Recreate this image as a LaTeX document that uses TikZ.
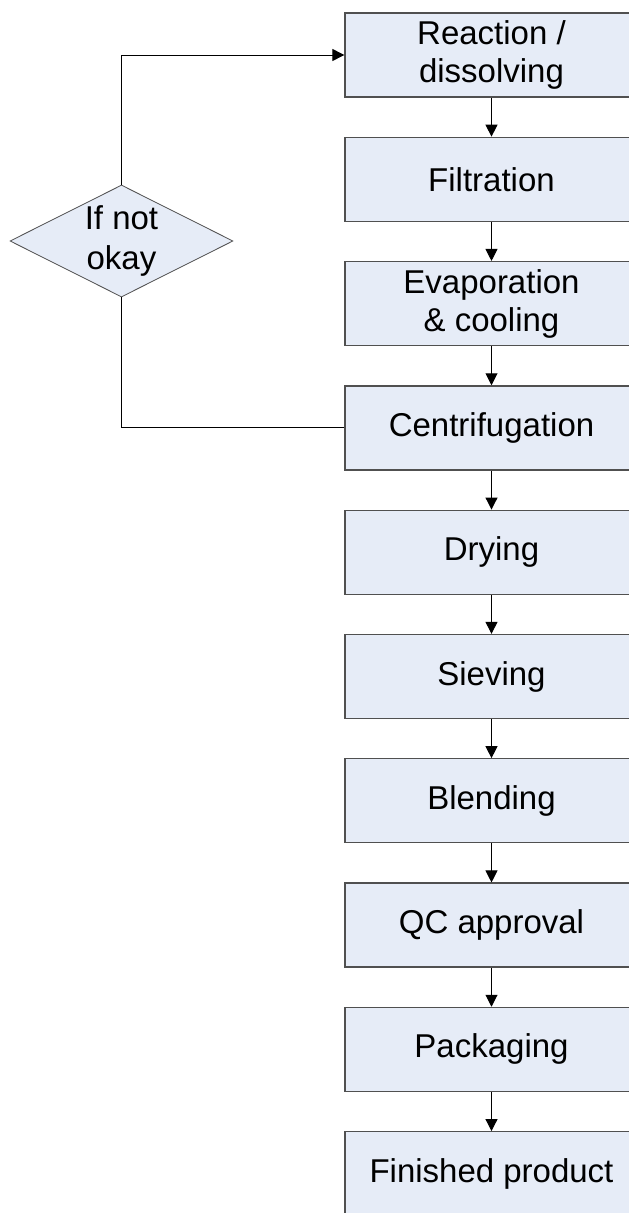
\documentclass[tikz,border=0pt]{standalone}
\usepackage{fontspec}
\setmainfont{Liberation Sans}
\usepackage{tikz}
\usetikzlibrary{arrows.meta,shapes.geometric,calc}

\definecolor{boxfill}{HTML}{E6ECF7}
\definecolor{boxline}{HTML}{505050}

\tikzset{
	stepbox/.style={draw=boxline, fill=boxfill, line width=1.3pt,
		minimum width=293pt, minimum height=84pt, inner sep=2pt,
		align=center, font=\fontsize{33}{38}\selectfont},
	checkbox/.style={diamond, draw=boxline, fill=boxfill, line width=0.8pt,
		aspect=2, minimum width=223pt, minimum height=112pt, inner sep=0pt,
		align=center, font=\fontsize{33}{40}\selectfont},
	flow/.style={line width=1pt, -{Triangle[length=12pt,width=12pt]}}
}

\begin{document}
\begin{tikzpicture}[x=1pt,y=-1pt]
		\useasboundingbox (0,0) rectangle (629,1213);
		\fill[white] (0,0) rectangle (629,1213);

		\coordinate (T) at (491.5,55); % centre of the first box
		\coordinate (d) at (0,124.3);  % step between boxes

		\node[stepbox] (R) at (T) {Reaction /\\dissolving};
		\node[stepbox] (F) at ($(T)+1*(d)$) {Filtration};
		\node[stepbox] (E) at ($(T)+2*(d)$) {Evaporation\\\& cooling};
		\node[stepbox] (C) at ($(T)+3*(d)$) {Centrifugation};
		\node[stepbox] (Dr) at ($(T)+4*(d)$) {Drying};
		\node[stepbox] (S) at ($(T)+5*(d)$) {Sieving};
		\node[stepbox] (B) at ($(T)+6*(d)$) {Blending};
		\node[stepbox] (Q) at ($(T)+7*(d)$) {QC approval};
		\node[stepbox] (P) at ($(T)+8*(d)$) {Packaging};
		\node[stepbox] (Fp) at ($(T)+9*(d)$) {Finished product};

		\node[checkbox] (K) at (121.5,241) {If not\\okay};

		\draw[flow] (R) -- (F);
		\draw[flow] (F) -- (E);
		\draw[flow] (E) -- (C);
		\draw[flow] (C) -- (Dr);
		\draw[flow] (Dr) -- (S);
		\draw[flow] (S) -- (B);
		\draw[flow] (B) -- (Q);
		\draw[flow] (Q) -- (P);
		\draw[flow] (P) -- (Fp);

		% loop back when the check fails
		\draw[line width=1pt] (C.west) -| (K.south);
		\draw[flow] (K.north) |- (R.west);
	\end{tikzpicture}
\end{document}
